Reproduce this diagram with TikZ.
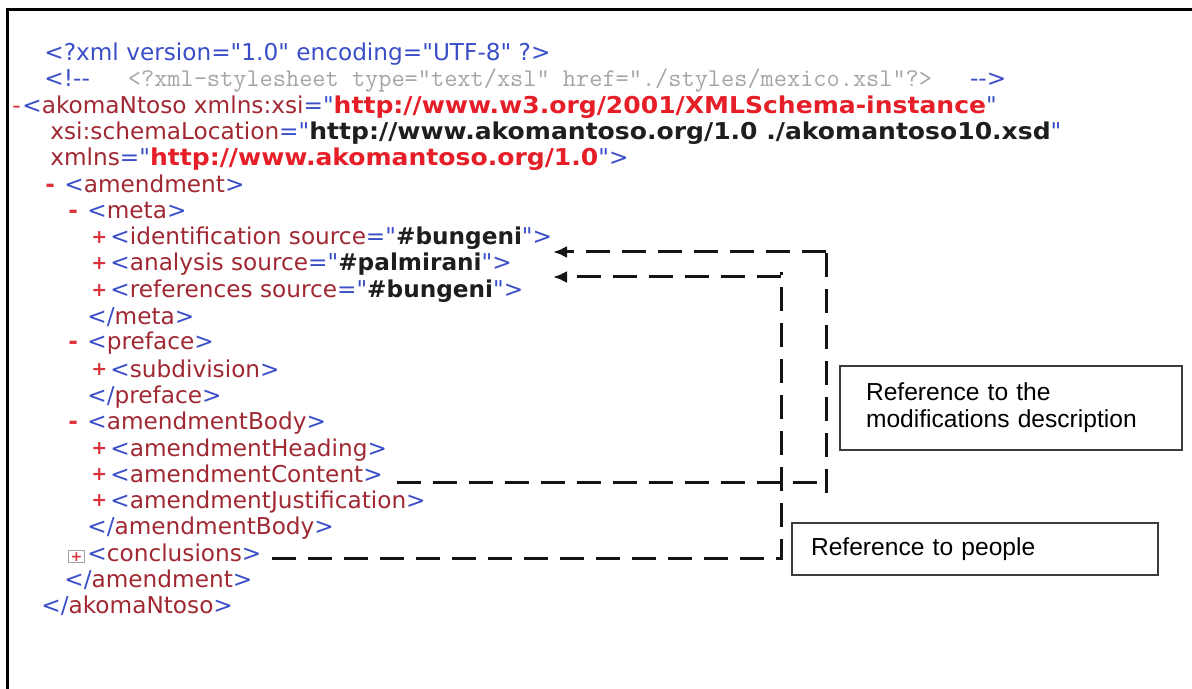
\documentclass[tikz,border=0pt]{standalone}
\usepackage{fontspec}
\usepackage{tikz}
\usetikzlibrary{arrows.meta,positioning}

\newfontfamily\xmlfam{DejaVu Sans}
\newfontfamily\notefam{Liberation Sans}

\definecolor{xblue}{RGB}{58,78,200}
\definecolor{xtag}{RGB}{160,40,50}
\definecolor{xns}{RGB}{230,30,40}
\definecolor{xval}{RGB}{30,30,30}
\definecolor{xmark}{RGB}{220,50,60}
\definecolor{xgray}{RGB}{165,165,165}
\definecolor{xline}{RGB}{20,20,20}
\definecolor{xbox}{RGB}{60,60,60}

\newcommand\mku[1]{\textcolor{xblue}{#1}}
\newcommand\tgn[1]{\textcolor{xtag}{#1}}
\newcommand\atv[1]{\textcolor{xval}{\textbf{#1}}}
\newcommand\url[1]{\textbf{\addfontfeature{FakeStretch=1.08}#1}}
\newcommand\nsv[1]{\textcolor{xns}{\url{#1}}}
\newcommand\mk[1]{\makebox[9.5pt][l]{\textcolor{xmark}{\textbf{#1}}}}
\newcommand\mkp{\makebox[9.5pt][l]{\textcolor{xmark}{\raisebox{0.6pt}{\fontsize{9.5}{10}\selectfont\textbf{+}}}}}
\newcommand\bxplus{\makebox[9.5pt][l]{\setlength\fboxsep{0.6pt}\setlength\fboxrule{0.5pt}%
  \fcolorbox{xgray}{white}{\textcolor{xmark}{\fontsize{7}{7}\selectfont\textbf{+}}}}}

\begin{document}
\begin{tikzpicture}[x=0.5pt,y=-0.5pt,
  xl/.style={anchor=base west,inner sep=0pt,font=\xmlfam\fontsize{11.6}{14}\selectfont},
  conn/.style={draw=xline,line width=1.5pt,dash pattern=on 12pt off 6pt},
  refbox/.style={draw=xbox,line width=1pt,align=left,font=\notefam\fontsize{12.3}{13.5}\selectfont}]
\useasboundingbox (0,0) rectangle (1192,689);

% frame
\draw[line width=1.5pt] (7,689) -- (7,10) -- (1192,10);

% xml listing
\node[xl] (pi) at (44,61) {\mku{<?xml version="1.0" encoding="UTF-8" ?>}};
\node[xl] (cmt) at (44,87) {\mku{<!--}\hspace{19pt}{\ttfamily\fontsize{12.8}{14}\selectfont\color{xgray}<?xml-stylesheet type="text/xsl" href="./styles/mexico.xsl"?>}\hspace{19pt}\mku{-->}};
\node[xl] (root) at (12,114) {\makebox[5pt][l]{\textcolor{xmark}{-}}\mku{<}\tgn{akomaNtoso xmlns:xsi}\mku{="}\nsv{http://www.w3.org/2001/XMLSchema-instance}\mku{"}};
\node[xl] (sl) at (50,140) {\tgn{xsi:schemaLocation}\mku{="}\textcolor{xval}{\url{http://www.akomantoso.org/1.0 ./akomantoso10.xsd}}\mku{"}};
\node[xl] (ns) at (50,166) {\tgn{xmlns}\mku{="}\nsv{http://www.akomantoso.org/1.0}\mku{">}};
\node[xl] (amd) at (45,193) {\mk{-}\mku{<}\tgn{amendment}\mku{>}};
\node[xl] (meta) at (68,219) {\mk{-}\mku{<}\tgn{meta}\mku{>}};
\node[xl] (ident) at (91,245) {\mkp\mku{<}\tgn{identification source}\mku{="}\atv{\#bungeni}\mku{">}};
\node[xl] (anal) at (91,271) {\mkp\mku{<}\tgn{analysis source}\mku{="}\atv{\#palmirani}\mku{">}};
\node[xl] (refs) at (91,298) {\mkp\mku{<}\tgn{references source}\mku{="}\atv{\#bungeni}\mku{">}};
\node[xl] (metaend) at (87,324) {\mku{</}\tgn{meta}\mku{>}};
\node[xl] (pref) at (68,350) {\mk{-}\mku{<}\tgn{preface}\mku{>}};
\node[xl] (subd) at (91,377) {\mkp\mku{<}\tgn{subdivision}\mku{>}};
\node[xl] (prefend) at (87,403) {\mku{</}\tgn{preface}\mku{>}};
\node[xl] (body) at (68,429) {\mk{-}\mku{<}\tgn{amendmentBody}\mku{>}};
\node[xl] (head) at (91,456) {\mkp\mku{<}\tgn{amendmentHeading}\mku{>}};
\node[xl] (cnt) at (91,482) {\mkp\mku{<}\tgn{amendmentContent}\mku{>}};
\node[xl] (just) at (91,508) {\mkp\mku{<}\tgn{amendmentJustification}\mku{>}};
\node[xl] (bodyend) at (87,534) {\mku{</}\tgn{amendmentBody}\mku{>}};
\node[xl] (concl) at (68,561) {\bxplus\mku{<}\tgn{conclusions}\mku{>}};
\node[xl] (amdend) at (64,587) {\mku{</}\tgn{amendment}\mku{>}};
\node[xl] (rootend) at (41,613) {\mku{</}\tgn{akomaNtoso}\mku{>}};

% notes
\node[refbox,text width=145pt,inner xsep=13pt,minimum height=42pt] (descbox) at (1011,408) {Reference to the\\modifications description};
\node[refbox,text width=164pt,inner xsep=9.5pt,minimum height=26pt] (pplbox) at (975,549) {Reference to people};

% connectors
\coordinate (topA) at (826,245);
\coordinate (botA) at (826,493);
\coordinate (tipA) at (553,252);
\coordinate (topB) at (781,272);
\coordinate (tipB) at (553,277);

\draw[conn] ([xshift=7pt]cnt.base east) -- (cnt.base east -| topA);
\draw[conn] (botA) -- (topA);
\draw[conn,-{Latex[length=7pt,width=6pt]}] (tipA -| topA) -- (tipA);
\draw[conn] ([xshift=5pt,yshift=1.5pt]concl.base east) -- ([yshift=1.5pt]concl.base east -| topB) -- (topB);
\draw[conn,-{Latex[length=7pt,width=6pt]}] (tipB -| topB) -- (tipB);

\end{tikzpicture}
\end{document}
